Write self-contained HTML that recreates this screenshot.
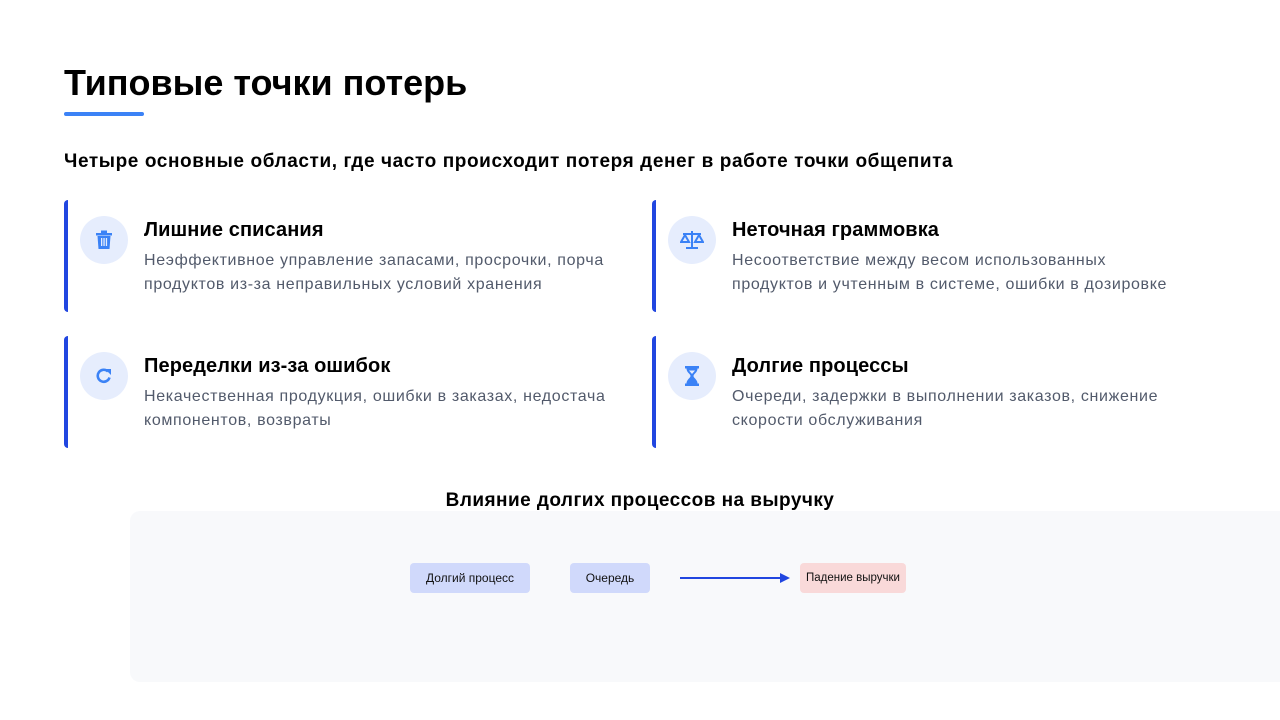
<!DOCTYPE html>
<html><head><meta charset="utf-8"><style>
*{margin:0;padding:0;box-sizing:border-box}
body{width:1280px;height:720px;background:#fff;font-family:"Liberation Sans",sans-serif;position:relative;overflow:hidden;color:#000}
.abs{position:absolute}
h1{position:absolute;left:64px;top:62px;font-size:36px;font-weight:bold;letter-spacing:0px}
.bar{left:64px;top:112px;width:80px;height:4px;background:#3b82f6;border-radius:2px}
.sub{left:64px;top:151px;font-size:19px;font-weight:bold;letter-spacing:0.6px;white-space:nowrap}
.card{position:absolute;width:560px;height:112px;border-left:4px solid #2146e0;border-radius:4px}
.ic{position:absolute;left:12px;top:16px;width:48px;height:48px;border-radius:50%;background:#e6edfd;display:flex;align-items:center;justify-content:center}
.t{position:absolute;left:76px;top:19px;font-size:20px;font-weight:bold;letter-spacing:0.1px;white-space:nowrap}
.d{position:absolute;left:76px;top:49px;font-size:16px;line-height:24px;color:#525a6b;white-space:nowrap;letter-spacing:0.65px}
.node{position:absolute;height:30px;border-radius:4px;font-size:12px;display:flex;align-items:center;justify-content:center;color:#111}
</style></head><body>
<h1>Типовые точки потерь</h1>
<div class="abs bar"></div>
<div class="abs sub">Четыре основные области, где часто происходит потеря денег в работе точки общепита</div>

<div class="card" style="left:64px;top:200px">
<div class="ic"><svg width="18" height="20" viewBox="0 0 18 20"><rect x="1" y="3" width="16" height="2.5" fill="#3b82f6"/><rect x="6" y="0.5" width="6" height="3" fill="#3b82f6"/><path d="M2.5 6h13l-1 13h-11z" fill="#3b82f6"/><rect x="6" y="8" width="1.3" height="8" fill="#e6edfd"/><rect x="8.4" y="8" width="1.3" height="8" fill="#e6edfd"/><rect x="10.8" y="8" width="1.3" height="8" fill="#e6edfd"/></svg></div>
<div class="t">Лишние списания</div>
<div class="d">Неэффективное управление запасами, просрочки, порча<br>продуктов из-за неправильных условий хранения</div></div>

<div class="card" style="left:652px;top:200px">
<div class="ic"><svg width="24" height="20" viewBox="0 0 24 20"><rect x="11" y="1" width="2" height="16" fill="#3b82f6"/><rect x="3" y="3" width="18" height="2" fill="#3b82f6"/><rect x="6" y="17" width="12" height="2" fill="#3b82f6"/><path d="M1 12l4-7 4 7z" fill="none" stroke="#3b82f6" stroke-width="2"/><path d="M15 12l4-7 4 7z" fill="none" stroke="#3b82f6" stroke-width="2"/></svg></div>
<div class="t">Неточная граммовка</div>
<div class="d">Несоответствие между весом использованных<br>продуктов и учтенным в системе, ошибки в дозировке</div></div>

<div class="card" style="left:64px;top:336px">
<div class="ic"><svg width="20" height="20" viewBox="0 0 20 20"><path d="M15.5 11.5A6 6 0 1 1 14 5.5" fill="none" stroke="#3b82f6" stroke-width="2.6"/><path d="M11 3h6v6z" fill="#3b82f6"/></svg></div>
<div class="t">Переделки из-за ошибок</div>
<div class="d">Некачественная продукция, ошибки в заказах, недостача<br>компонентов, возвраты</div></div>

<div class="card" style="left:652px;top:336px">
<div class="ic"><svg width="16" height="22" viewBox="0 0 16 22"><rect x="1" y="1" width="14" height="2.5" fill="#3b82f6"/><rect x="1" y="18.5" width="14" height="2.5" fill="#3b82f6"/><path d="M2.5 3.5h11c0 4-4 5.5-4 7.5s4 3.5 4 7.5h-11c0-4 4-5.5 4-7.5s-4-3.5-4-7.5z" fill="#3b82f6"/><path d="M5 5.5h6l-3 3.5z" fill="#e6edfd"/></svg></div>
<div class="t">Долгие процессы</div>
<div class="d">Очереди, задержки в выполнении заказов, снижение<br>скорости обслуживания</div></div>

<div class="abs" style="left:130px;top:511px;width:1160px;height:171px;background:#f8f9fb;border-radius:10px"></div>
<div class="abs" style="left:0;width:1280px;top:490px;text-align:center;font-size:19px;font-weight:bold;letter-spacing:0.45px">Влияние долгих процессов на выручку</div>
<div class="node" style="left:410px;top:563px;width:120px;background:#d0d9fb">Долгий процесс</div>
<div class="node" style="left:570px;top:563px;width:80px;background:#d0d9fb">Очередь</div>
<svg class="abs" style="left:678px;top:570px" width="115" height="16"><line x1="2" y1="8" x2="104" y2="8" stroke="#2146e0" stroke-width="2"/><path d="M102 3l10 5-10 5z" fill="#2146e0"/></svg>
<div class="node" style="left:800px;top:563px;width:106px;background:#f9d9d9;font-size:11.5px">Падение выручки</div>
</body></html>
